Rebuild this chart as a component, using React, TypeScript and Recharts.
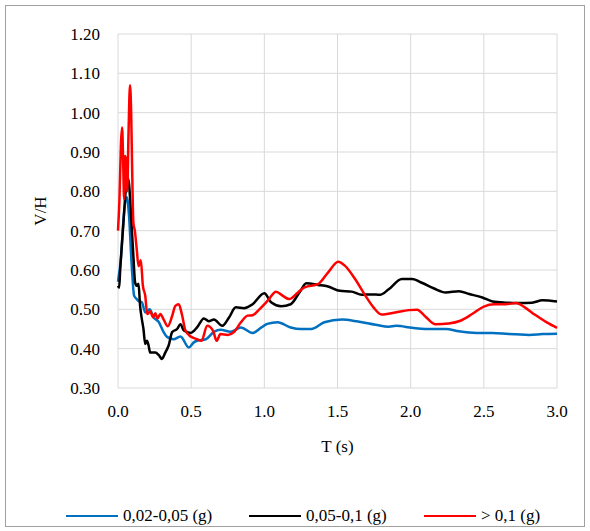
import React from "react"
import { LineChart, Line, XAxis, YAxis, CartesianGrid } from "recharts"

// periods (s) and V/H values, one pair of arrays per band
const blueT = [0, 0.02, 0.04, 0.06, 0.075, 0.094, 0.11, 0.128, 0.145, 0.163, 0.186, 0.216, 0.243, 0.278, 0.312, 0.335, 0.38, 0.427, 0.484, 0.518, 0.54, 0.6, 0.656, 0.7, 0.77, 0.84, 0.92, 0.98, 1.02, 1.09, 1.18, 1.25, 1.32, 1.41, 1.53, 1.64, 1.76, 1.85, 1.9, 2.01, 2.1, 2.24, 2.33, 2.45, 2.56, 2.67, 2.81, 2.9, 3.0]
const blueV = [0.57, 0.63, 0.74, 0.785, 0.74, 0.61, 0.535, 0.526, 0.52, 0.518, 0.492, 0.5, 0.48, 0.468, 0.442, 0.43, 0.424, 0.431, 0.403, 0.416, 0.42, 0.424, 0.443, 0.448, 0.443, 0.454, 0.44, 0.454, 0.463, 0.467, 0.454, 0.45, 0.45, 0.467, 0.474, 0.469, 0.461, 0.456, 0.458, 0.453, 0.45, 0.45, 0.444, 0.44, 0.44, 0.437, 0.435, 0.437, 0.438]

const blackT = [0, 0.008, 0.014, 0.037, 0.05, 0.064, 0.075, 0.083, 0.095, 0.105, 0.117, 0.128, 0.14, 0.151, 0.163, 0.174, 0.186, 0.198, 0.209, 0.22, 0.232, 0.255, 0.278, 0.3, 0.323, 0.346, 0.37, 0.404, 0.427, 0.45, 0.496, 0.54, 0.587, 0.62, 0.656, 0.713, 0.76, 0.805, 0.862, 0.92, 1.0, 1.046, 1.115, 1.18, 1.24, 1.287, 1.367, 1.436, 1.516, 1.597, 1.666, 1.735, 1.79, 1.85, 1.94, 2.01, 2.08, 2.16, 2.24, 2.33, 2.4, 2.49, 2.56, 2.65, 2.74, 2.83, 2.9, 3.0]
const blackV = [0.56, 0.555, 0.594, 0.72, 0.79, 0.835, 0.82, 0.78, 0.7, 0.636, 0.568, 0.56, 0.565, 0.509, 0.475, 0.45, 0.412, 0.42, 0.408, 0.39, 0.39, 0.39, 0.384, 0.374, 0.39, 0.408, 0.442, 0.45, 0.462, 0.446, 0.44, 0.454, 0.477, 0.47, 0.474, 0.458, 0.48, 0.505, 0.503, 0.513, 0.541, 0.518, 0.508, 0.513, 0.543, 0.566, 0.562, 0.558, 0.547, 0.545, 0.537, 0.538, 0.537, 0.551, 0.577, 0.577, 0.567, 0.553, 0.543, 0.546, 0.539, 0.53, 0.52, 0.517, 0.516, 0.517, 0.523, 0.52]

const redT = [0, 0.01, 0.02, 0.028, 0.035, 0.042, 0.048, 0.055, 0.063, 0.072, 0.082, 0.09, 0.097, 0.105, 0.115, 0.128, 0.14, 0.156, 0.17, 0.186, 0.2, 0.22, 0.24, 0.255, 0.27, 0.289, 0.312, 0.34, 0.37, 0.392, 0.415, 0.438, 0.461, 0.5, 0.54, 0.57, 0.61, 0.65, 0.674, 0.7, 0.75, 0.794, 0.84, 0.886, 0.92, 0.966, 1.023, 1.08, 1.127, 1.17, 1.23, 1.275, 1.367, 1.436, 1.505, 1.55, 1.62, 1.69, 1.746, 1.8, 1.895, 1.987, 2.044, 2.1, 2.17, 2.26, 2.34, 2.42, 2.5, 2.57, 2.65, 2.72, 2.78, 2.85, 2.93, 3.0]
const redV = [0.7, 0.78, 0.92, 0.962, 0.88, 0.78, 0.89, 0.88, 0.8, 0.95, 1.07, 1.0, 0.85, 0.72, 0.7, 0.653, 0.61, 0.625, 0.56, 0.535, 0.488, 0.495, 0.48, 0.49, 0.477, 0.488, 0.474, 0.457, 0.483, 0.509, 0.513, 0.485, 0.446, 0.43, 0.424, 0.42, 0.458, 0.445, 0.42, 0.437, 0.435, 0.443, 0.467, 0.484, 0.485, 0.5, 0.522, 0.545, 0.534, 0.526, 0.543, 0.556, 0.564, 0.594, 0.621, 0.611, 0.577, 0.535, 0.505, 0.487, 0.492, 0.498, 0.499, 0.482, 0.462, 0.464, 0.471, 0.488, 0.507, 0.513, 0.513, 0.516, 0.505, 0.486, 0.467, 0.453]

const xTicks = [0, 0.5, 1, 1.5, 2, 2.5, 3]
const yTicks = [0.3, 0.4, 0.5, 0.6, 0.7, 0.8, 0.9, 1.0, 1.1, 1.2]

const seriesNames = ["0,02-0,05 (g)", "0,05-0,1 (g)", "> 0,1 (g)"]
const seriesColors = ["#0070C0", "#000000", "#FF0000"]

const FONT = '"Liberation Serif", "Times New Roman", serif'

const toRows = (ts: number[], vs: number[]) => ts.map((t, i) => ({ t, v: vs[i] }))

export default function App() {
  const series = [toRows(blueT, blueV), toRows(blackT, blackV), toRows(redT, redV)]
  const legendX = [66, 249, 424]

  return (
    <div style={{ position: "absolute", left: 0, top: 0, width: 590, height: 531, background: "#fff", fontFamily: FONT }}>
      <div
        style={{
          position: "absolute",
          left: 5,
          top: 5,
          width: 580,
          height: 522,
          boxSizing: "border-box",
          border: "1px solid #a0a0a0",
        }}
      />
      <div style={{ position: "absolute", left: 0, top: 0 }}>
        <LineChart width={590} height={531} margin={{ top: 34, right: 33, left: 0, bottom: 73 }}>
          <CartesianGrid stroke="#d9d9d9" strokeWidth={1} />
          <XAxis
            type="number"
            dataKey="t"
            domain={[0, 3]}
            ticks={xTicks}
            tickFormatter={(v) => v.toFixed(1)}
            axisLine={false}
            tickLine={false}
            tickSize={0}
            tickMargin={17}
            height={70}
            tick={{ fill: "#000", fontSize: 17, fontFamily: FONT }}
            label={{ value: "T (s)", position: "insideBottom", offset: 6, fill: "#000", fontSize: 17, fontFamily: FONT }}
          />
          <YAxis
            type="number"
            domain={[0.3, 1.2]}
            ticks={yTicks}
            tickFormatter={(v) => v.toFixed(2)}
            axisLine={false}
            tickLine={false}
            tickSize={0}
            tickMargin={18}
            width={118}
            tick={{ fill: "#000", fontSize: 17, fontFamily: FONT }}
            label={{
              value: "V/H",
              angle: -90,
              position: "insideLeft",
              offset: 40,
              fill: "#000",
              fontSize: 17,
              fontFamily: FONT,
              style: { textAnchor: "middle" },
            }}
          />
          {series.map((rows, i) => (
            <Line
              key={seriesNames[i]}
              data={rows}
              dataKey="v"
              name={seriesNames[i]}
              type="monotone"
              stroke={seriesColors[i]}
              strokeWidth={2.5}
              dot={false}
              isAnimationActive={false}
            />
          ))}
        </LineChart>
      </div>
      {seriesNames.map((name, i) => (
        <div
          key={name}
          style={{
            position: "absolute",
            left: legendX[i],
            top: 505,
            height: 22,
            display: "flex",
            alignItems: "center",
            fontSize: 17,
            color: "#000",
            whiteSpace: "pre",
          }}
        >
          <span style={{ display: "inline-block", width: 52, height: 2.5, background: seriesColors[i], marginRight: 5 }} />
          <span>{name}</span>
        </div>
      ))}
    </div>
  )
}
